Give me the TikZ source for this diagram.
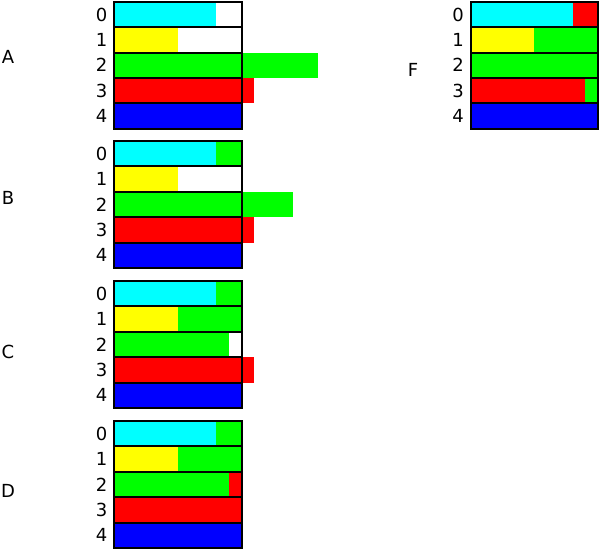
\documentclass[tikz,border=0pt]{standalone}
\usepackage{fontspec}
\setmainfont{DejaVu Sans}
\definecolor{cy}{RGB}{0,255,255}
\definecolor{ye}{RGB}{255,255,0}
\definecolor{gr}{RGB}{0,255,0}
\definecolor{rd}{RGB}{255,0,0}
\definecolor{bl}{RGB}{0,0,255}
\tikzset{
  cell/.style={draw=black, line width=2pt},
  lbl/.style={font=\fontsize{18}{20}\selectfont, inner sep=0pt},
  blk/.style={x=127.4pt, y=-25.38pt}
}
% grid outline and row digits, in block-local units
\newcommand\gridrows[1]{%
  \draw[cell] (0,0) rectangle (1,5);
  \foreach \r in {1,...,4} \draw[cell] (0,\r) -- (1,\r);
  \foreach \r in {0,...,4} \node[lbl] (#1\r) at (-0.099,\r+0.5) {\r};
}
\begin{document}
\begin{tikzpicture}[x=1pt,y=-1pt]
\useasboundingbox (0,0) rectangle (600,550);

% ---- A ----
\begin{scope}[shift={(114.3,1.8)}, blk]
  \fill[cy] (0,0) rectangle (0.8,1);
  \fill[ye] (0,1) rectangle (0.5,2);
  \fill[gr] (0,2) rectangle (1.6,3);
  \fill[rd] (0,3) rectangle (1.1,4);
  \fill[bl] (0,4) rectangle (1,5);
  \gridrows{a}
\end{scope}
\node[lbl] (A) at (8,57) {A};

% ---- B ----
\begin{scope}[shift={(114.3,141)}, blk]
  \fill[cy] (0,0) rectangle (0.8,1);
  \fill[gr] (0.8,0) rectangle (1,1);
  \fill[ye] (0,1) rectangle (0.5,2);
  \fill[gr] (0,2) rectangle (1.4,3);
  \fill[rd] (0,3) rectangle (1.1,4);
  \fill[bl] (0,4) rectangle (1,5);
  \gridrows{b}
\end{scope}
\node[lbl] (B) at (8,197.5) {B};

% ---- C ----
\begin{scope}[shift={(114.3,281)}, blk]
  \fill[cy] (0,0) rectangle (0.8,1);
  \fill[gr] (0.8,0) rectangle (1,1);
  \fill[ye] (0,1) rectangle (0.5,2);
  \fill[gr] (0.5,1) rectangle (1,2);
  \fill[gr] (0,2) rectangle (0.9,3);
  \fill[rd] (0,3) rectangle (1.1,4);
  \fill[bl] (0,4) rectangle (1,5);
  \gridrows{c}
\end{scope}
\node[lbl] (C) at (8,352) {C};

% ---- D ----
\begin{scope}[shift={(114.3,421)}, blk]
  \fill[cy] (0,0) rectangle (0.8,1);
  \fill[gr] (0.8,0) rectangle (1,1);
  \fill[ye] (0,1) rectangle (0.5,2);
  \fill[gr] (0.5,1) rectangle (1,2);
  \fill[gr] (0,2) rectangle (0.9,3);
  \fill[rd] (0.9,2) rectangle (1,3);
  \fill[rd] (0,3) rectangle (1,4);
  \fill[bl] (0,4) rectangle (1,5);
  \gridrows{d}
\end{scope}
\node[lbl] (D) at (8,491) {D};

% ---- F ----
\begin{scope}[shift={(470.7,1.8)}, blk]
  \fill[cy] (0,0) rectangle (0.8,1);
  \fill[rd] (0.8,0) rectangle (1,1);
  \fill[ye] (0,1) rectangle (0.5,2);
  \fill[gr] (0.5,1) rectangle (1,2);
  \fill[gr] (0,2) rectangle (1,3);
  \fill[rd] (0,3) rectangle (0.9,4);
  \fill[gr] (0.9,3) rectangle (1,4);
  \fill[bl] (0,4) rectangle (1,5);
  \gridrows{f}
\end{scope}
\node[lbl] (F) at (413,70) {F};
\end{tikzpicture}
\end{document}
